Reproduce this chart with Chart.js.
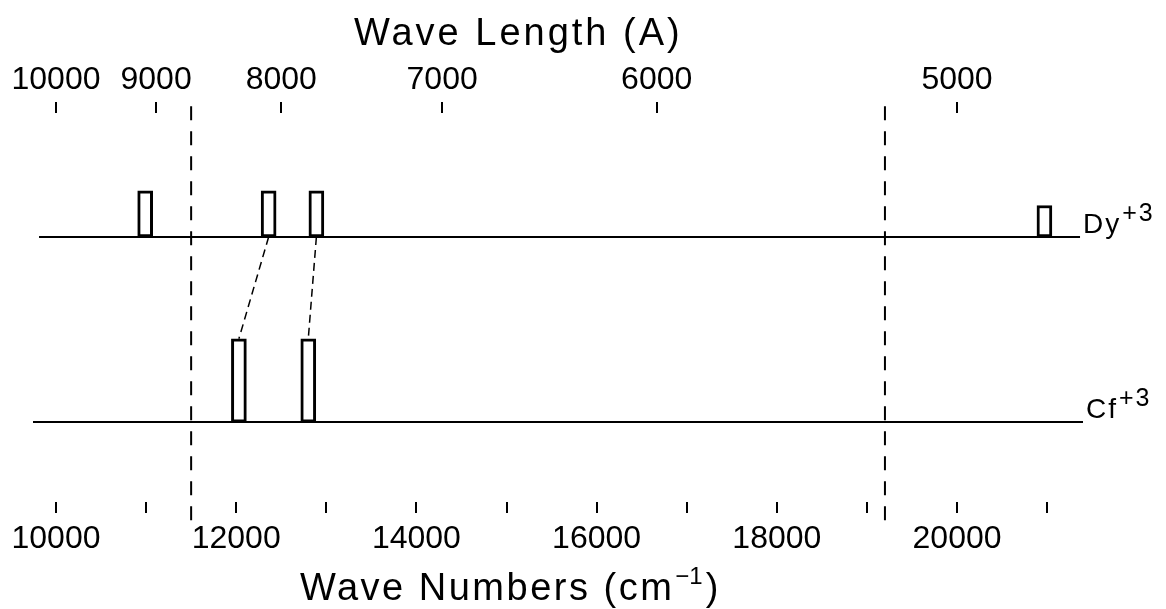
<!DOCTYPE html>
<html><head><meta charset="utf-8">
<script src="https://cdn.jsdelivr.net/npm/chart.js@4"></script>
<style>html,body{margin:0;padding:0;background:#fff}#wrap{width:1166px;height:609px;position:relative}</style>
</head><body><div id="wrap"><canvas id="c"></canvas></div>
<script>
// ---- data ----
const ions = ['Dy', 'Cf'];
const ionCharges = ['+3', '+3'];
const ionLevels = [1, 0];
const dyLines = [10990, 12360, 12890, 20970];      // cm-1
const dyHeights = [0.25, 0.25, 0.25, 0.17];        // relative
const cfLines = [12030, 12800];                    // cm-1
const cfHeights = [0.45, 0.45];
const correspondences = [[1, 0], [2, 1]];          // Dy index -> Cf index
const waveNumberTicks = [10000, 11000, 12000, 13000, 14000, 15000, 16000, 17000, 18000, 19000, 20000, 21000];
const waveNumberLabels = ['10000', '', '12000', '', '14000', '', '16000', '', '18000', '', '20000', ''];
const waveLengthTicks = [10000, 9000, 8000, 7000, 6000, 5000]; // Angstrom
const markerLines = [11500, 19200];                // cm-1
const xRange = [9745, 21398];
const yRange = [-0.432, 1.670];
const dyLineSpan = [9812, 21365];
const cfLineSpan = [9745, 21398];
const markerSpan = [-0.53, 1.74];

const FONT = '"Liberation Sans", Arial, sans-serif';

const datasets = [];
// baselines
datasets.push({type:'line', data:[{x:dyLineSpan[0], y:ionLevels[0]}, {x:dyLineSpan[1], y:ionLevels[0]}],
  borderColor:'#000', borderWidth:2, pointRadius:0, order:5});
datasets.push({type:'line', data:[{x:cfLineSpan[0], y:ionLevels[1]}, {x:cfLineSpan[1], y:ionLevels[1]}],
  borderColor:'#000', borderWidth:2, pointRadius:0, order:5});
// marker dashed lines
markerLines.forEach(v => datasets.push({type:'line', data:[{x:v, y:markerSpan[0]}, {x:v, y:markerSpan[1]}],
  borderColor:'#000', borderWidth:2, borderDash:[14, 11], pointRadius:0, clip:false, order:6}));
// correspondences
correspondences.forEach(([a, b]) => datasets.push({type:'line',
  data:[{x:dyLines[a], y:ionLevels[0]}, {x:cfLines[b], y:ionLevels[1] + cfHeights[b]}],
  borderColor:'#000', borderWidth:1.5, borderDash:[8, 5], pointRadius:0, order:4}));
// bars
datasets.push({type:'bar', data: dyLines.map((x, i) => ({x, y:[ionLevels[0], ionLevels[0] + dyHeights[i]]})),
  backgroundColor:'#fff', borderColor:'#000', borderWidth:3, borderSkipped:false, barThickness:15, grouped:false, order:1});
datasets.push({type:'bar', data: cfLines.map((x, i) => ({x, y:[ionLevels[1], ionLevels[1] + cfHeights[i]]})),
  backgroundColor:'#fff', borderColor:'#000', borderWidth:3, borderSkipped:false, barThickness:15, grouped:false, order:1});

const textPlugin = {
  id: 'texts',
  afterDraw(chart) {
    const ctx = chart.ctx;
    const xs = chart.scales.x, ys = chart.scales.y;
    ctx.save();
    ctx.fillStyle = '#000';
    ctx.textAlign = 'left';
    ctx.textBaseline = 'alphabetic';
    // top title
    ctx.font = '38px ' + FONT;
    ctx.letterSpacing = '3px';
    ctx.fillText('Wave Length (A)', 354, 45);
    // bottom title
    let x = 300, y = 600;
    ctx.letterSpacing = '2.5px';
    const t1 = 'Wave Numbers (cm';
    ctx.fillText(t1, x, y);
    x += ctx.measureText(t1).width + 1;
    ctx.font = '24px ' + FONT;
    ctx.letterSpacing = '0px';
    const sup = '\u22121';
    ctx.fillText(sup, x, y - 16);
    x += ctx.measureText(sup).width + 3;
    ctx.font = '38px ' + FONT;
    ctx.fillText(')', x, y);
    // ion labels
    const spans = [dyLineSpan, cfLineSpan];
    ions.forEach((name, i) => {
      const px = xs.getPixelForValue(spans[i][1]) + 3;
      const py = ys.getPixelForValue(ionLevels[i]) - 4;
      ctx.font = '28px ' + FONT;
      ctx.letterSpacing = '2px';
      ctx.fillText(name, px, py);
      const w = ctx.measureText(name).width;
      ctx.font = '25px ' + FONT;
      ctx.letterSpacing = '2px';
      ctx.fillText(ionCharges[i], px + w + 1, py - 12);
    });
    ctx.restore();
  }
};

new Chart(document.getElementById('c'), {
  type: 'bar',
  data: { datasets },
  options: {
    responsive: true, maintainAspectRatio: false, animation: false,
    layout: { padding: { left: 33, right: 83, top: 0, bottom: 0 } },
    plugins: { legend: { display: false }, tooltip: { enabled: false } },
    scales: {
      x: {
        type: 'linear', position: 'bottom', min: xRange[0], max: xRange[1], offset: false,
        afterBuildTicks: s => { s.ticks = waveNumberTicks.map(v => ({ value: v })); },
        afterFit: s => { s.height = 107; },
        ticks: { autoSkip: false, maxRotation: 0, padding: 7, color: '#000',
          font: { family: FONT, size: 32 },
          callback: (v, i) => waveNumberLabels[i] },
        grid: { offset: false, drawOnChartArea: false, drawTicks: true, tickLength: 11, color: '#000', lineWidth: 2 },
        border: { display: false }
      },
      xTop: {
        type: 'linear', position: 'top', min: xRange[0], max: xRange[1], offset: false,
        afterBuildTicks: s => { s.ticks = waveLengthTicks.map(l => ({ value: 1e8 / l })); },
        afterFit: s => { s.height = 113; },
        ticks: { autoSkip: false, maxRotation: 0, padding: 3, color: '#000',
          font: { family: FONT, size: 32 },
          callback: (v, i) => String(waveLengthTicks[i]) },
        grid: { offset: false, drawOnChartArea: false, drawTicks: true, tickLength: 11, color: '#000', lineWidth: 2 },
        border: { display: false }
      },
      y: { type: 'linear', display: false, min: yRange[0], max: yRange[1] }
    }
  },
  plugins: [textPlugin]
});
</script></body></html>
